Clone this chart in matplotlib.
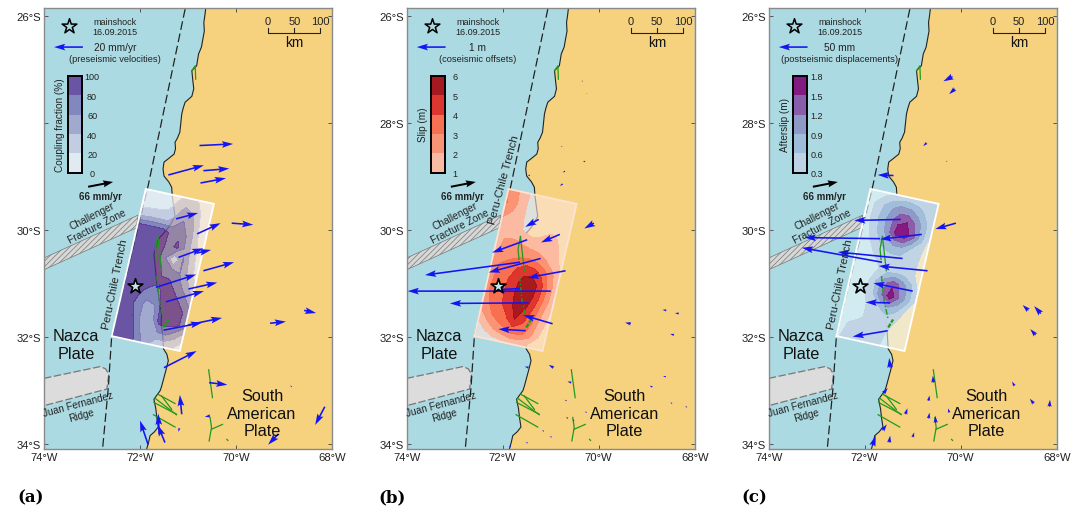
import numpy as np
import matplotlib
matplotlib.use("Agg")
import matplotlib.pyplot as plt
from matplotlib.patches import Polygon

plt.rcParams['font.family'] = ['Liberation Sans', 'DejaVu Sans']
plt.rcParams['hatch.linewidth'] = 0.5

OCEAN = '#acdae2'
LAND = '#f6d27f'
BLUE = '#1414f5'
GREEN = '#1f9a1f'

lon_ticks = [-74, -72, -70, -68]
lon_labels = ['74°W', '72°W', '70°W', '68°W']
lat_ticks = [-26, -28, -30, -32, -34]
lat_labels = ['26°S', '28°S', '30°S', '32°S', '34°S']

coast_lon = [-70.63, -70.65, -70.67, -70.66, -70.69, -70.72, -70.78, -70.80, -70.82, -70.92, -70.90, -70.88,
             -70.92, -71.06, -71.10, -71.13, -71.15, -71.17, -71.22, -71.27, -71.26, -71.29, -71.40, -71.50,
             -71.52, -71.50, -71.40, -71.34, -71.33, -71.31, -71.29, -71.27, -71.38, -71.50, -71.62, -71.66,
             -71.69, -71.71, -71.68, -71.65, -71.60, -71.55, -71.56, -71.53, -71.51, -71.44, -71.41, -71.46,
             -71.52, -71.55, -71.58, -71.71, -71.67, -71.65, -71.62, -71.70, -71.79, -71.82, -71.86]
coast_lat = [-25.85, -26.00, -26.12, -26.28, -26.43, -26.58, -26.71, -26.82, -26.93, -27.02, -27.20, -27.36,
             -27.50, -27.61, -27.72, -27.83, -28.00, -28.17, -28.28, -28.36, -28.48, -28.58, -28.66, -28.73,
             -28.86, -28.99, -29.10, -29.20, -29.34, -29.48, -29.62, -29.74, -29.92, -30.05, -30.17, -30.28,
             -30.39, -30.45, -30.72, -31.00, -31.30, -31.57, -31.75, -31.94, -32.22, -32.32, -32.44, -32.62,
             -32.82, -32.92, -33.00, -33.16, -33.34, -33.50, -33.68, -33.77, -33.84, -33.96, -34.09]

trench_lon = [-71.06, -71.83, -72.59, -72.66, -72.78]
trench_lat = [-25.87, -29.17, -31.98, -32.94, -34.09]

fracture_lon = [-74.0, -72.04, -72.08, -74.0]
fracture_lat = [-30.52, -29.72, -29.96, -30.74]

ridge_lon = [-74.0, -72.83, -72.72, -72.65, -72.69, -74.0]
ridge_lat = [-32.77, -32.55, -32.59, -32.69, -32.97, -33.28]

# fault traces, lon then lat
faults = [
    ([-70.92, -70.85, -70.84], [-27.02, -26.93, -27.18]),
    ([-71.63, -71.55], [-30.12, -30.76]),
    ([-71.63, -71.68, -71.66], [-30.12, -30.35, -30.55]),
    ([-70.57, -70.49], [-32.61, -33.13]),
    ([-70.54, -70.51, -70.56], [-33.50, -33.69, -33.94]),
    ([-70.51, -70.28], [-33.72, -33.63]),
    ([-71.62, -71.27], [-33.07, -33.24]),
    ([-71.69, -71.24], [-33.14, -33.45]),
    ([-71.55, -71.34], [-33.10, -33.35]),
    ([-71.71, -71.24], [-33.22, -33.44]),
    ([-71.72, -71.27], [-33.45, -33.68]),
    ([-70.19, -70.17], [-33.91, -33.93]),
]
dashed_fault_lon = [-71.65, -71.60, -71.51]
dashed_fault_lat = [-30.86, -31.30, -31.67]
thick_fault_lon = [-71.51, -71.41]
thick_fault_lat = [-31.82, -31.67]

# corners of the fault plane
plane_tl = (-71.88, -29.23)
plane_tr = (-70.46, -29.51)
plane_bl = (-72.59, -31.98)

star_lon = -72.10
star_lat = -31.04

# arrows: lon0, lat0, lon1, lat1
pre_arrows = [
    (-70.76, -28.42, -70.06, -28.39), (-71.41, -28.97, -70.67, -28.79), (-70.68, -28.89, -70.14, -28.85),
    (-70.74, -29.12, -70.21, -29.03), (-71.25, -29.79, -70.79, -29.68), (-70.81, -30.07, -70.32, -29.87),
    (-70.09, -29.87, -69.64, -29.90), (-71.20, -30.51, -70.68, -30.34), (-70.82, -30.43, -70.52, -30.37),
    (-70.68, -30.76, -70.04, -30.60), (-71.67, -31.07, -70.83, -30.83), (-70.99, -31.10, -70.39, -30.98),
    (-71.46, -31.34, -70.67, -31.14), (-71.51, -31.87, -70.71, -31.73), (-70.99, -31.77, -70.29, -31.64),
    (-71.50, -32.57, -70.82, -32.26), (-69.29, -31.74, -68.96, -31.71), (-68.58, -31.50, -68.33, -31.55),
    (-70.56, -32.85, -70.18, -32.89), (-71.13, -33.44, -71.17, -33.08), (-71.60, -33.81, -71.62, -33.43),
    (-71.48, -33.97, -71.63, -33.64), (-71.83, -34.01, -72.00, -33.56), (-68.15, -33.30, -68.35, -33.64),
    (-69.12, -33.81, -69.33, -34.01), (-70.54, -33.47, -70.65, -33.49), (-68.84, -32.93, -68.87, -32.90),
    (-71.18, -33.70, -71.20, -33.77),
]
co_arrows = [
    (-71.25, -29.80, -71.53, -29.94), (-70.81, -30.08, -71.20, -30.23), (-71.49, -30.18, -72.22, -30.42),
    (-71.64, -30.60, -73.62, -30.84), (-71.21, -30.53, -72.29, -30.79), (-70.69, -30.76, -71.48, -30.89),
    (-71.00, -31.14, -73.98, -31.14), (-71.64, -31.09, -72.19, -31.12), (-71.46, -31.36, -73.10, -31.37),
    (-70.96, -31.75, -71.57, -31.59), (-71.52, -31.88, -72.09, -31.85), (-70.10, -29.87, -70.30, -29.97),
    (-70.33, -27.22, -70.36, -27.21), (-70.24, -27.45, -70.26, -27.44), (-70.76, -28.44, -70.79, -28.43),
    (-70.28, -28.72, -70.33, -28.71), (-70.70, -28.90, -70.75, -28.92), (-71.43, -28.98, -71.48, -28.97),
    (-70.75, -29.14, -70.81, -29.17), (-68.59, -31.50, -68.67, -31.49), (-68.33, -31.56, -68.41, -31.55),
    (-69.33, -31.75, -69.45, -31.73), (-68.43, -31.96, -68.51, -31.94), (-70.94, -32.57, -71.04, -32.52),
    (-71.46, -32.57, -71.54, -32.55), (-68.60, -32.74, -68.66, -32.73), (-68.88, -32.93, -68.94, -32.91),
    (-70.57, -32.85, -70.65, -32.83), (-70.67, -33.19, -70.71, -33.17), (-68.47, -33.24, -68.51, -33.22),
    (-68.16, -33.31, -68.20, -33.29), (-70.25, -33.41, -70.29, -33.39), (-70.64, -33.52, -70.68, -33.49),
    (-70.51, -33.56, -70.55, -33.54), (-71.14, -33.76, -71.18, -33.74), (-70.98, -33.87, -71.02, -33.85),
    (-71.48, -33.98, -71.52, -33.96), (-71.83, -34.05, -71.87, -34.03), (-69.11, -33.81, -69.17, -33.81),
]
post_arrows = [
    (-71.25, -29.80, -72.22, -29.82), (-70.81, -30.08, -71.68, -30.17), (-71.68, -30.16, -73.25, -30.14),
    (-71.21, -30.53, -72.56, -30.41), (-71.64, -30.60, -73.31, -30.33), (-70.69, -30.76, -71.71, -30.67),
    (-71.00, -31.14, -71.82, -30.99), (-71.47, -31.36, -71.98, -31.35), (-71.52, -31.88, -72.25, -31.99),
    (-70.10, -29.87, -70.53, -29.98), (-71.40, -28.98, -71.73, -28.97), (-70.17, -27.13, -70.36, -27.22),
    (-70.12, -27.36, -70.24, -27.46), (-70.71, -28.37, -70.78, -28.43), (-70.28, -28.71, -70.31, -28.72),
    (-68.59, -31.50, -68.71, -31.40), (-68.33, -31.56, -68.47, -31.42), (-68.44, -31.96, -68.55, -31.85),
    (-71.47, -32.57, -71.49, -32.39), (-70.57, -32.85, -70.58, -32.72), (-68.88, -32.91, -68.93, -32.83),
    (-70.67, -33.19, -70.65, -33.09), (-71.61, -33.05, -71.52, -32.95), (-68.48, -33.24, -68.56, -33.15),
    (-68.15, -33.30, -68.14, -33.17), (-71.15, -33.44, -71.11, -33.33), (-70.24, -33.41, -70.26, -33.33),
    (-70.67, -33.52, -70.65, -33.41), (-70.52, -33.60, -70.53, -33.47), (-71.63, -33.74, -71.54, -33.63),
    (-71.00, -33.87, -70.97, -33.78), (-71.49, -33.97, -71.47, -33.84), (-71.84, -34.03, -71.77, -33.84),
    (-69.13, -33.78, -69.18, -33.75),
]

# contour grids on the plane: rows run north to south, columns west to east
coupling = [
    [8, 8, 8, 10, 15, 25, 22, 12, 5],
    [10, 10, 12, 15, 28, 45, 35, 15, 5],
    [30, 35, 35, 35, 45, 62, 50, 18, 5],
    [92, 92, 92, 90, 75, 75, 55, 22, 6],
    [92, 92, 92, 92, 72, 85, 55, 25, 8],
    [92, 92, 92, 90, 60, 15, 62, 28, 8],
    [92, 92, 92, 90, 78, 72, 60, 35, 10],
    [92, 92, 92, 88, 82, 85, 70, 50, 25],
    [92, 92, 82, 72, 72, 90, 85, 70, 45],
    [92, 88, 74, 52, 58, 92, 90, 85, 70],
    [92, 90, 78, 50, 50, 90, 90, 85, 65],
    [92, 92, 85, 58, 50, 58, 60, 45, 25],
    [92, 92, 88, 72, 45, 18, 20, 20, 10],
]
slip = [
    [2.5, 2.2, 1.5, 0.6, 0.4, 0.3, 0.2, 0.2, 0.2],
    [3.2, 2.4, 1.4, 0.6, 0.4, 0.3, 0.2, 0.2, 0.2],
    [2.2, 1.8, 1.3, 0.7, 0.4, 0.3, 0.2, 0.2, 0.2],
    [1.5, 1.4, 1.2, 0.9, 0.6, 0.9, 1.2, 0.9, 0.3],
    [1.5, 2.1, 2.2, 1.9, 1.6, 1.5, 1.3, 1.1, 0.5],
    [1.8, 2.3, 2.6, 2.8, 2.9, 2.6, 2.1, 1.4, 0.7],
    [2.2, 3.1, 3.5, 4.0, 4.6, 4.4, 3.6, 2.3, 1.1],
    [2.4, 3.3, 3.8, 4.5, 5.4, 5.7, 4.6, 2.7, 1.1],
    [2.6, 3.4, 3.9, 4.6, 5.7, 5.6, 4.4, 2.6, 1.0],
    [2.4, 3.2, 3.8, 4.5, 5.5, 5.0, 3.7, 2.1, 0.8],
    [1.6, 2.7, 3.4, 3.9, 5.0, 4.2, 3.1, 1.6, 0.5],
    [0.6, 1.4, 2.2, 2.8, 3.4, 3.3, 2.5, 1.1, 0.3],
    [0.2, 0.3, 0.5, 0.7, 0.9, 0.9, 0.7, 0.4, 0.2],
]
afterslip = [
    [0.0, 0.0, 0.2, 0.3, 0.35, 0.35, 0.35, 0.4, 0.35],
    [0.0, 0.35, 0.6, 0.85, 1.0, 0.95, 0.75, 0.5, 0.35],
    [0.0, 0.4, 0.7, 1.05, 1.45, 1.5, 1.15, 0.7, 0.35],
    [0.0, 0.35, 0.65, 1.05, 1.6, 1.7, 1.3, 0.7, 0.2],
    [0.0, 0.2, 0.5, 0.7, 0.9, 0.9, 0.6, 0.4, 0.15],
    [0.0, 0.1, 0.28, 0.4, 0.45, 0.45, 0.45, 0.35, 0.1],
    [0.0, 0.1, 0.15, 0.3, 0.45, 0.5, 0.45, 0.35, 0.1],
    [0.0, 0.1, 0.2, 0.6, 1.1, 1.4, 1.1, 0.7, 0.2],
    [0.0, 0.1, 0.3, 0.6, 1.2, 1.7, 1.2, 0.75, 0.2],
    [0.0, 0.1, 0.2, 0.4, 0.6, 0.8, 0.65, 0.3, 0.1],
    [0.0, 0.2, 0.25, 0.35, 0.4, 0.4, 0.32, 0.15, 0.05],
    [0.1, 0.35, 0.4, 0.4, 0.4, 0.35, 0.2, 0.1, 0.05],
    [0.25, 0.4, 0.4, 0.4, 0.35, 0.3, 0.1, 0.05, 0.05],
]

coupling_levels = [0, 20, 40, 60, 80, 100]
slip_levels = [1, 2, 3, 4, 5, 6]
after_levels = [0.3, 0.6, 0.9, 1.2, 1.5, 1.8]
coupling_colors = ['#f2f0f7', '#cbc9e2', '#9e9ac8', '#756bb1', '#54278f']
slip_colors = ['#fdb9a0', '#fc9070', '#fb6a4a', '#de2d26', '#a50f15']
after_colors = ['#bfd3e6', '#9ebcda', '#8c96c6', '#8856a7', '#810f7c']


def draw_panel(ax, grid, levels, colors, level_labels, cbar_label, cbar_lon, base, base_alpha, fill_alpha, edge,
               arrows, legend_top, legend_sub, tick_labels, trench_pos, trench_rot, star_face):
    ax.set_facecolor(OCEAN)
    ax.set_xlim(-74, -68)
    ax.set_ylim(-34.09, -25.85)

    land_x = coast_lon + [-68, -68]
    land_y = coast_lat + [-34.09, -25.85]
    ax.fill(land_x, land_y, color=LAND, lw=0, zorder=1)
    ax.plot(coast_lon, coast_lat, color='#222222', lw=0.8, zorder=2)

    ax.add_patch(Polygon(list(zip(fracture_lon, fracture_lat)), facecolor='#d6d8d8', edgecolor='#777777',
                         hatch='//////', lw=0.5, zorder=2))
    ax.fill(ridge_lon, ridge_lat, color='#dcdcdc', lw=0, zorder=2)
    ax.plot(ridge_lon, ridge_lat, color='#777777', lw=0.9, ls=(0, (6, 2)), zorder=2)
    ax.plot(trench_lon, trench_lat, color='#222222', lw=0.9, ls=(0, (7, 3)), zorder=2)

    # fault plane
    tl = np.array(plane_tl)
    along = np.array(plane_bl) - tl
    across = np.array(plane_tr) - tl
    corners = [tl, tl + across, tl + across + along, tl + along]
    ax.add_patch(Polygon(corners, facecolor=base, alpha=base_alpha, lw=0, zorder=3))
    values = np.array(grid)
    uu, vv = np.meshgrid(np.linspace(0, 1, values.shape[0]), np.linspace(0, 1, values.shape[1]), indexing='ij')
    gx = tl[0] + uu * along[0] + vv * across[0]
    gy = tl[1] + uu * along[1] + vv * across[1]
    ax.contourf(gx, gy, values, levels=levels, colors=colors, alpha=fill_alpha, zorder=4)
    ax.add_patch(Polygon(corners, fill=False, edgecolor=edge, lw=1.3, zorder=5))

    for fx, fy in faults:
        ax.plot(fx, fy, color=GREEN, lw=0.9, zorder=5)
    ax.plot(dashed_fault_lon, dashed_fault_lat, color=GREEN, lw=1.0, ls=(0, (4, 1.5, 1, 1.5)), zorder=5)
    ax.plot(thick_fault_lon, thick_fault_lat, color=GREEN, lw=1.6, ls=(0, (2, 0.6)), zorder=5)

    ax.scatter([star_lon], [star_lat], marker='*', s=125, facecolor=star_face, edgecolor='black', lw=1.2, zorder=7)

    a = np.array(arrows)
    ax.quiver(a[:, 0], a[:, 1], a[:, 2] - a[:, 0], a[:, 3] - a[:, 1], angles='xy', scale_units='xy', scale=1,
              color=BLUE, units='dots', width=1.6, headwidth=4.2, headlength=7, headaxislength=6,
              minshaft=1, minlength=0.5, zorder=6)

    # legend block at the top
    ax.scatter([-73.48], [-26.19], marker='*', s=125, facecolor=OCEAN, edgecolor='black', lw=1.1, zorder=7)
    ax.text(-72.52, -26.10, 'mainshock', fontsize=6.5, ha='center', va='center', color='#222222')
    ax.text(-72.52, -26.29, '16.09.2015', fontsize=6.5, ha='center', va='center', color='#222222')
    ax.quiver([-73.19], [-26.58], [-0.60], [0], angles='xy', scale_units='xy', scale=1, color=BLUE,
              units='dots', width=1.6, headwidth=4.2, headlength=7, headaxislength=6, zorder=6)
    ax.text(-72.52, -26.58, legend_top, fontsize=7.3, ha='center', va='center', color='#222222')
    ax.text(-72.52, -26.80, legend_sub, fontsize=6.7, ha='center', va='center', color='#222222')

    # scale bar
    ax.plot([-69.33, -69.33, -68.24, -68.24], [-26.23, -26.32, -26.32, -26.23], color='#222222', lw=0.8)
    ax.plot([-68.785, -68.785], [-26.23, -26.32], color='#222222', lw=0.8)
    for x, s in zip([-69.33, -68.785, -68.24], ['0', '50', '100']):
        ax.text(x, -26.10, s, fontsize=8, ha='center', va='center', color='#222222')
    ax.text(-68.785, -26.49, 'km', fontsize=9.9, ha='center', va='center', color='#111111')

    # plate motion
    ax.quiver([-73.08], [-29.19], [0.52], [0.09], angles='xy', scale_units='xy', scale=1, color='black',
              units='dots', width=2, headwidth=3.5, headlength=5, headaxislength=4.5, zorder=6)
    ax.text(-72.83, -29.36, '66 mm/yr', fontsize=7, fontweight='bold', ha='center', va='center', color='#222222')

    # names
    ax.text(-73.33, -32.14, 'Nazca\nPlate', fontsize=11.7, ha='center', va='center', linespacing=1.2,
            color='#111111', zorder=7)
    ax.text(-69.46, -33.42, 'South\nAmerican\nPlate', fontsize=11.7, ha='center', va='center', linespacing=1.2,
            color='#111111', zorder=7)
    ax.text(-72.94, -29.83, 'Challenger\nFracture Zone', fontsize=7.3, rotation=27, rotation_mode='anchor',
            ha='center', va='center', color='#222222', zorder=7)
    ax.text(-73.25, -33.35, 'Juan Fernandez\nRidge', fontsize=7.2, rotation=15, rotation_mode='anchor',
            ha='center', va='center', color='#222222', zorder=7)
    ax.text(trench_pos[0], trench_pos[1], 'Peru-Chile Trench', fontsize=8.2, rotation=trench_rot,
            rotation_mode='anchor', ha='center', va='center', color='#222222', zorder=7)

    ax.set_xticks(lon_ticks)
    ax.set_xticklabels(lon_labels)
    ax.set_yticks(lat_ticks)
    ax.set_yticklabels(tick_labels)
    ax.tick_params(direction='in', top=True, right=True, length=3, width=0.7, color='#555555',
                   labelsize=8.1, pad=2, labelcolor='#222222')
    for s in ax.spines.values():
        s.set_color('#8a8a8a')
        s.set_linewidth(1.0)

    # colour bar, same transparency as the plane so the ocean shows through the same way
    cax = ax.inset_axes([0.0833, 0.626, 0.05, 0.2206])
    cax.patch.set_visible(False)
    heights = np.diff(levels)
    cax.bar([0.5] * len(colors), heights, width=1, bottom=levels[:-1], color=colors, alpha=fill_alpha, lw=0)
    cax.set_xlim(0, 1)
    cax.set_ylim(levels[0], levels[-1])
    cax.set_xticks([])
    cax.set_yticks(levels)
    cax.set_yticklabels(level_labels, ha='center')
    cax.yaxis.tick_right()
    cax.tick_params(length=0, labelsize=6.5, pad=7, labelcolor='#222222')
    for s in cax.spines.values():
        s.set_linewidth(1.4)
        s.set_color('black')
    ax.text(cbar_lon, -28.02, cbar_label, fontsize=7.2, rotation=90, ha='center', va='center', color='#222222')


fig = plt.figure(figsize=(10.75, 5.10), dpi=100)
W, H = 1075.0, 510.0
axa = fig.add_axes([44 / W, 60 / H, 288 / W, 441 / H])
axb = fig.add_axes([406.7 / W, 60 / H, 288 / W, 441 / H])
axc = fig.add_axes([768.7 / W, 60 / H, 288 / W, 441 / H])

draw_panel(axa, coupling, coupling_levels, coupling_colors, ['0', '20', '40', '60', '80', '100'],
           'Coupling fraction (%)', -73.67, '#f2f0f7', 0.0, 0.75, 'white', pre_arrows,
           '20 mm/yr', '(preseismic velocities)', ['26°S', '', '30°S', '32°S', '34°S'],
           (-72.51, -30.99), 78.5, '#c4e6ee')
draw_panel(axb, slip, slip_levels, slip_colors, ['1', '2', '3', '4', '5', '6'],
           'Slip (m)', -73.65, '#fee5d9', 0.6, 0.95, '#fde3d3', co_arrows,
           '1 m', '(coseismic offsets)', lat_labels,
           (-71.97, -29.05), 75, '#c4e6ee')
draw_panel(axc, afterslip, after_levels, after_colors, ['0.3', '0.6', '0.9', '1.2', '1.5', '1.8'],
           'Afterslip (m)', -73.66, '#edf8fb', 0.6, 0.95, 'white', post_arrows,
           '50 mm', '(postseismic displacements)', lat_labels,
           (-72.51, -30.99), 78.5, '#c9e8ef')

for x, s in zip([17, 378, 741], ['(a)', '(b)', '(c)']):
    fig.text(x / W, 1 - 498 / H, s, fontsize=12, fontweight='bold', family='DejaVu Serif', ha='left', va='center')

fig.savefig('out.png', dpi=100)
